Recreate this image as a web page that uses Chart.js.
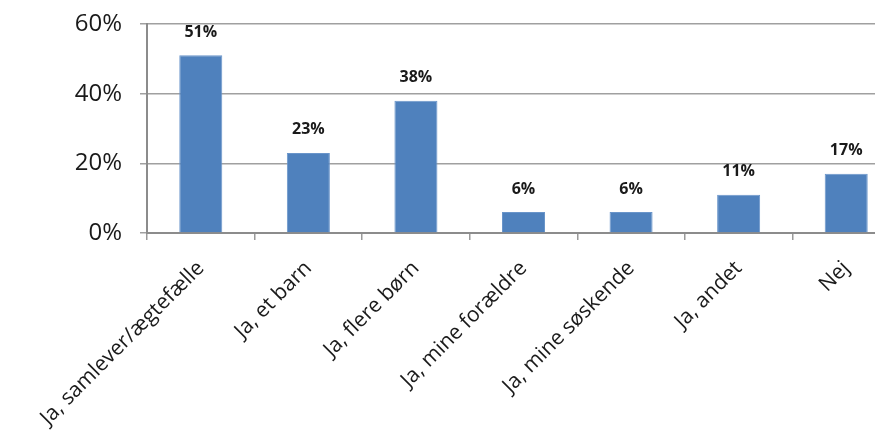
<!DOCTYPE html>
<html>
<head>
<meta charset="utf-8">
<script src="https://cdn.jsdelivr.net/npm/chart.js@4/dist/chart.umd.min.js"></script>
<style>
  html, body { margin: 0; padding: 0; background: #fff; overflow: hidden; }
  #wrap { width: 905px; height: 433px; }
</style>
</head>
<body>
<div id="wrap"><canvas id="c" width="905" height="433"></canvas></div>
<script>
const categories = [
  "Ja, samlever/ægtefælle",
  "Ja, et barn",
  "Ja, flere børn",
  "Ja, mine forældre",
  "Ja, mine søskende",
  "Ja, andet",
  "Nej"
];
const shares = [51, 23, 38, 6, 6, 11, 17];
const yTicks = [0, 20, 40, 60];

const FONT = "'Open Sans', 'DejaVu Sans', sans-serif";

// value labels above every bar
const barLabels = {
  id: 'barLabels',
  afterDatasetsDraw(chart) {
    const ctx = chart.ctx;
    const meta = chart.getDatasetMeta(0);
    ctx.save();
    ctx.font = "bold 16px " + FONT;
    ctx.fillStyle = "#1a1a1a";
    ctx.textAlign = "center";
    ctx.textBaseline = "middle";
    meta.data.forEach((bar, i) => {
      ctx.fillText(shares[i] + "%", bar.x, bar.y - 23);
    });
    ctx.restore();
  }
};

new Chart(document.getElementById('c'), {
  type: 'bar',
  data: {
    labels: categories,
    datasets: [{
      data: shares,
      backgroundColor: '#4F81BD',
      borderColor: '#6A95CA',
      borderWidth: 1,
      categoryPercentage: 1,
      barPercentage: 0.4
    }]
  },
  options: {
    responsive: false,
    animation: false,
    events: [],
    layout: { padding: { top: 24, right: 5, left: 0, bottom: 0 } },
    plugins: { legend: { display: false }, tooltip: { enabled: false } },
    scales: {
      x: {
        offset: true,
        grid: {
          offset: true,
          drawOnChartArea: false,
          drawTicks: true,
          tickLength: 7,
          color: '#9a9a9a',
          lineWidth: 1.5
        },
        border: { color: '#8c8c8c', width: 2 },
        ticks: {
          maxRotation: 45,
          minRotation: 45,
          autoSkip: false,
          padding: 16,
          color: '#1a1a1a',
          font: { family: FONT, size: 21 }
        },
        afterFit(scale) { scale.height = 200; }
      },
      y: {
        min: 0,
        max: 60,
        afterBuildTicks(scale) { scale.ticks = yTicks.map(v => ({ value: v })); },
        grid: {
          color: '#a0a0a0',
          lineWidth: 1.5,
          tickLength: 7
        },
        border: { color: '#8c8c8c', width: 2 },
        ticks: {
          padding: 18,
          color: '#1a1a1a',
          font: { family: FONT, size: 24 },
          callback: v => v + '%'
        },
        afterFit(scale) {
          scale.width = 147;
          scale.paddingTop = 0;
          scale.paddingBottom = 0;
        }
      }
    }
  },
  plugins: [barLabels]
});
</script>
</body>
</html>
